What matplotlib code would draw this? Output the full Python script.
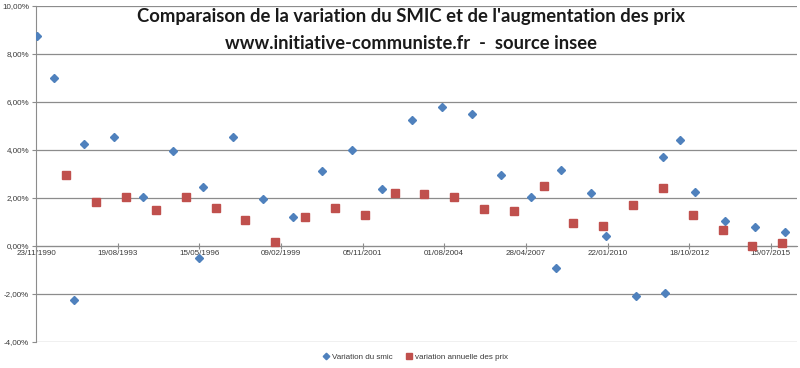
import matplotlib
matplotlib.use("Agg")
import matplotlib.pyplot as plt
import matplotlib.dates as mdates
from matplotlib.ticker import FuncFormatter, MultipleLocator
from datetime import datetime, timedelta

# data (values in %)
smic_dates = ['01/12/1990', '01/07/1991', '01/03/1992', '01/07/1992', '01/07/1993',
              '01/07/1994', '01/07/1995', '15/05/1996', '01/07/1996', '01/07/1997',
              '01/07/1998', '01/07/1999', '01/07/2000', '01/07/2001', '01/07/2002',
              '01/07/2003', '01/07/2004', '01/07/2005', '01/07/2006', '01/07/2007',
              '01/05/2008', '01/07/2008', '01/07/2009', '01/01/2010', '01/01/2011',
              '01/12/2011', '01/01/2012', '01/07/2012', '01/01/2013', '01/01/2014',
              '01/01/2015', '01/01/2016']
smic_values = [8.75, 7.0, -2.25, 4.25, 4.54, 2.04, 3.96, -0.5, 2.46, 4.54,
               1.96, 1.21, 3.13, 4.0, 2.38, 5.25, 5.8, 5.5, 2.96, 2.04,
               -0.92, 3.17, 2.2, 0.42, -2.08, 3.71, -1.96, 4.42, 2.25, 1.04,
               0.79, 0.58]

prix_dates = ['01/12/%d' % y for y in range(1991, 2016)]
prix_values = [2.96, 1.83, 2.04, 1.5, 2.04, 1.58, 1.08, 0.17, 1.21, 1.58,
               1.29, 2.2, 2.17, 2.04, 1.54, 1.46, 2.5, 0.96, 0.83, 1.71,
               2.42, 1.29, 0.67, 0.0, 0.13]

title_1 = "Comparaison de la variation du SMIC et de l'augmentation des prix"
title_2 = "www.initiative-communiste.fr  -  source insee"
label_smic = "Variation du smic"
label_prix = "variation annuelle des prix"

def to_date(s):
    return datetime.strptime(s, '%d/%m/%Y')

x_smic = [to_date(d) for d in smic_dates]
x_prix = [to_date(d) for d in prix_dates]

blue = '#4F81BD'
red = '#C0504D'
grid_col = '#8C8C8C'
txt_col = '#3A3A3A'

fig = plt.figure(figsize=(8, 3.68), dpi=100)
ax = fig.add_axes([0.045, 0.0707, 0.951, 0.913])

ax.plot(x_smic, smic_values, linestyle='none', marker='D', markersize=3.9,
        color=blue, label=label_smic, zorder=3)
ax.plot(x_prix, prix_values, linestyle='none', marker='s', markersize=5.4,
        color=red, label=label_prix, zorder=3)

x_start = to_date('23/11/1990')
ax.set_xlim(x_start, x_start + timedelta(days=9318))
ax.set_ylim(-4, 10)

# date axis, one tick every 1000 days
ticks = [x_start + timedelta(days=1000 * i) for i in range(10)]
ax.set_xticks(ticks)
ax.xaxis.set_major_formatter(mdates.DateFormatter('%d/%m/%Y'))
ax.yaxis.set_major_locator(MultipleLocator(2))
ax.yaxis.set_major_formatter(FuncFormatter(lambda v, p: ('%.2f' % v).replace('.', ',') + '%'))

for s in ['top', 'right']:
    ax.spines[s].set_visible(False)
ax.spines['bottom'].set_position(('data', 0))
ax.spines['bottom'].set_color(grid_col)
ax.spines['left'].set_color(grid_col)
ax.spines['bottom'].set_zorder(2)

ax.grid(axis='y', color=grid_col, linewidth=0.9)
ax.set_axisbelow(True)

ax.tick_params(axis='x', direction='inout', length=4, color=grid_col,
               labelsize=5.8, labelcolor=txt_col, pad=1)
ax.tick_params(axis='y', direction='out', length=3, color=grid_col,
               labelsize=5.8, labelcolor=txt_col, pad=2)
for lab in ax.get_xticklabels() + ax.get_yticklabels():
    lab.set_family('Liberation Sans')

fig.text(0.514, 0.954, title_1, ha='center', va='center', fontsize=13.3,
         fontweight='bold', family='Lato', color='#1a1a1a')
fig.text(0.514, 0.883, title_2, ha='center', va='center', fontsize=13.2,
         fontweight='bold', family='Lato', color='#1a1a1a')

leg = fig.legend(loc='center', bbox_to_anchor=(0.52, 0.03), ncol=2, frameon=False,
                 prop={'family': 'Liberation Sans', 'size': 5.8}, handlelength=0.6,
                 handletextpad=0.4, columnspacing=1.8, markerscale=0.85)
for t in leg.get_texts():
    t.set_color(txt_col)

fig.savefig('out.png', dpi=100, facecolor='white')
